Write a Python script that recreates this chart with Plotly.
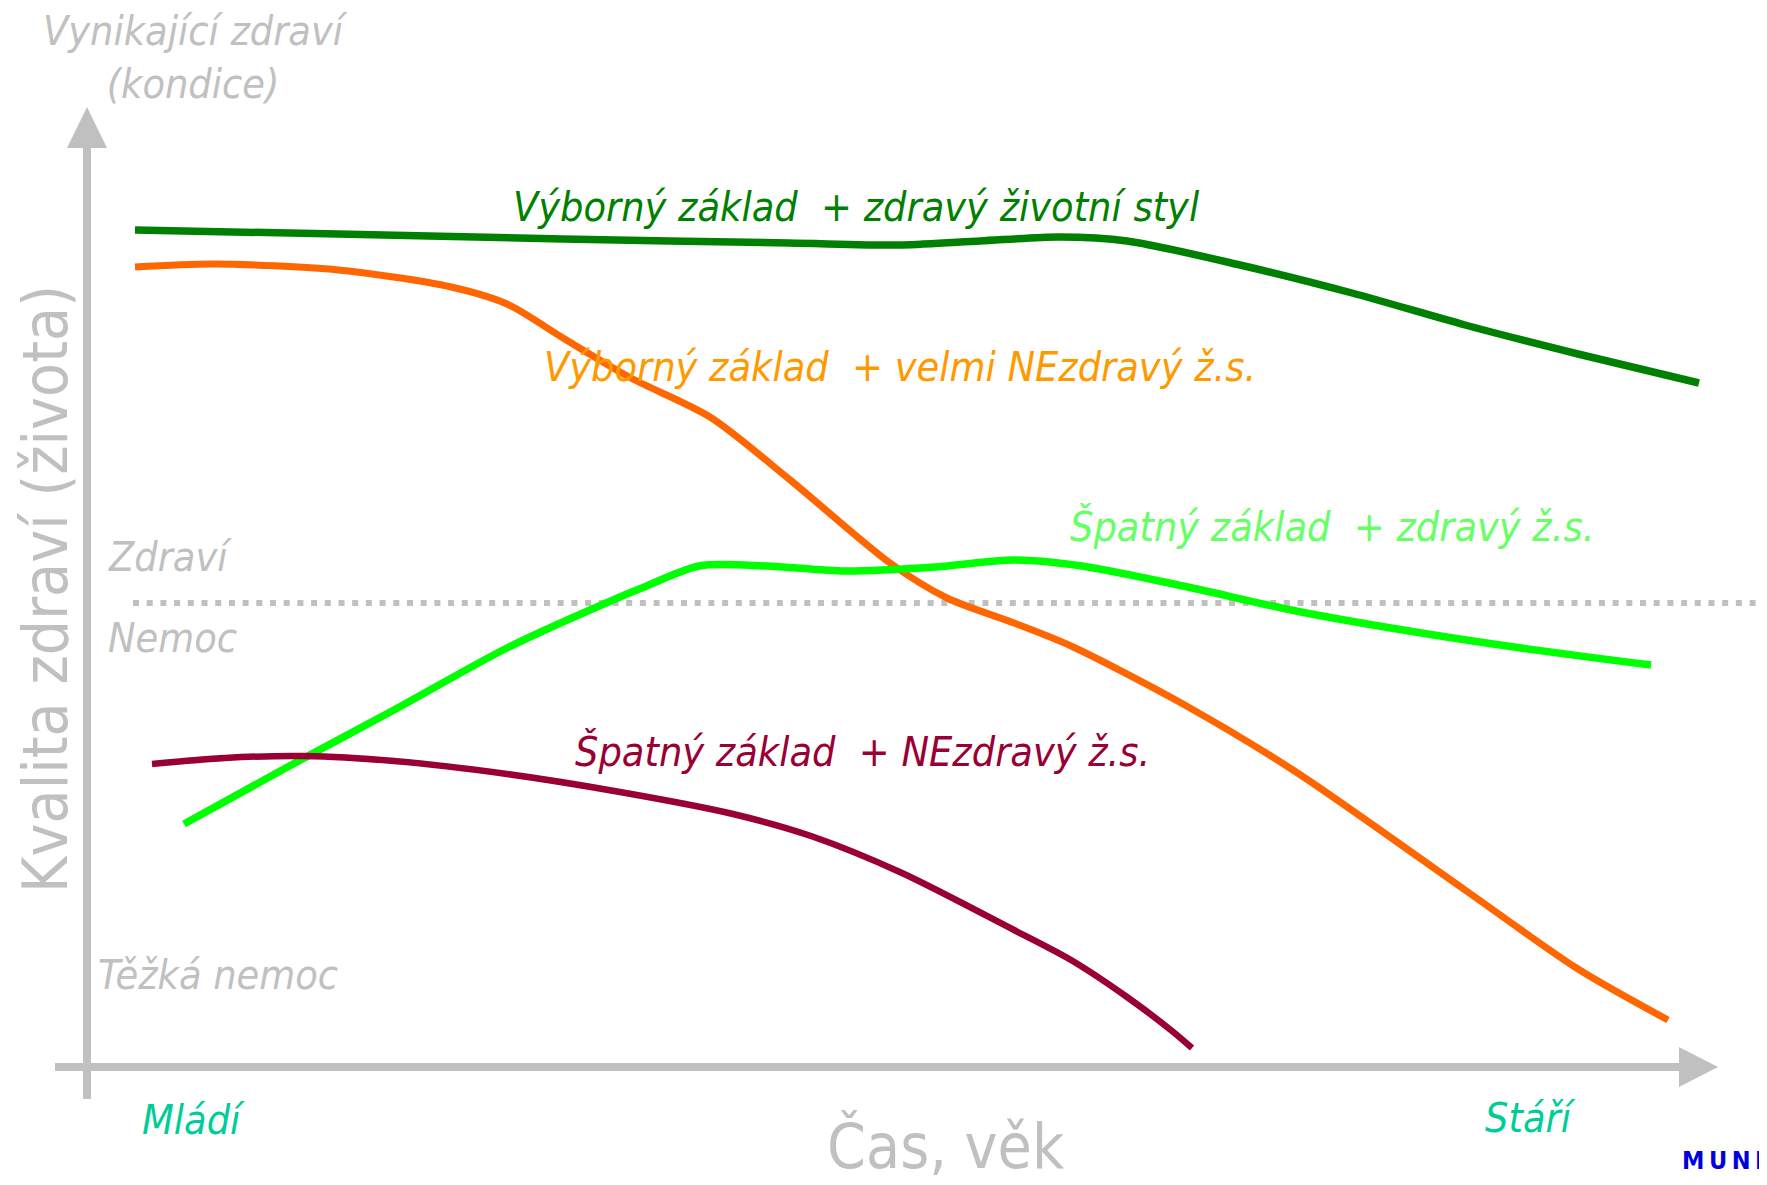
import plotly.graph_objs as go

# curve points (x: time, y: screen height, top = 0)
good_healthy_t = [135, 338, 563, 789, 902, 980, 1059, 1127, 1240, 1352, 1465, 1578, 1699]
good_healthy_q = [230, 234, 239, 243, 245, 241, 237, 241, 265, 293, 325, 354, 383]

good_unhealthy_t = [135, 214, 338, 451, 507, 563, 631, 710, 789, 890, 947, 1014, 1071,
                    1183, 1296, 1465, 1578, 1668]
good_unhealthy_q = [267, 264, 270, 287, 304, 338, 378, 417, 479, 563, 598, 623, 646,
                    704, 772, 890, 969, 1020]

poor_healthy_t = [184, 293, 394, 507, 620, 642, 699, 766, 845, 935, 1014, 1082, 1183,
                  1296, 1409, 1521, 1651]
poor_healthy_q = [824, 764, 710, 648, 597, 588, 566, 566, 571, 567, 560, 566, 586,
                  611, 631, 648, 665]

poor_unhealthy_t = [152, 225, 304, 394, 507, 620, 733, 811, 902, 1014, 1071, 1127, 1172, 1192]
poor_unhealthy_q = [764, 758, 756, 761, 774, 792, 814, 836, 873, 930, 960, 997, 1031, 1048]

health_line_t = [133, 1767]
health_line_q = [603, 603]

FONT = "DejaVu Sans Condensed, DejaVu Sans"
GREY = "#c0c0c0"
PAGE_MARGIN = 8  # default body margin of the html page

series = [
    (good_healthy_t, good_healthy_q, "#008000", 7.5),
    (good_unhealthy_t, good_unhealthy_q, "#ff6600", 7),
    (poor_healthy_t, poor_healthy_q, "#00ff00", 7.5),
    (poor_unhealthy_t, poor_unhealthy_q, "#990033", 6.5),
]

traces = [
    go.Scatter(
        x=health_line_t,
        y=health_line_q,
        mode="lines",
        line=dict(color=GREY, width=6, dash="6px,7.7px"),
        hoverinfo="skip",
    )
]
traces += [
    go.Scatter(
        x=t,
        y=q,
        mode="lines",
        line=dict(color=color, width=width, shape="spline", smoothing=0.8),
        hoverinfo="skip",
    )
    for t, q, color, width in series
]


def label(text, x, y, color, size=41, italic=True, xanchor="center", angle=0):
    return dict(
        text=text,
        x=x,
        y=y,
        xref="x",
        yref="y",
        showarrow=False,
        xanchor=xanchor,
        yanchor="middle",
        textangle=angle,
        font=dict(family=FONT, size=size, color=color,
                  style="italic" if italic else "normal"),
    )


annotations = [
    label("Výborný základ \u00a0+ zdravý životní styl", 856, 207, "#008000"),
    label("Výborný základ \u00a0+ velmi NEzdravý ž.s.", 900, 367, "#ff9900"),
    label("Špatný základ \u00a0+ zdravý ž.s.", 1332, 527, "#66ff66"),
    label("Špatný základ \u00a0+ NEzdravý ž.s.", 862, 752, "#990033"),
    label("Vynikající zdraví<br>(kondice)", 195, 57, GREY),
    label("Zdraví", 106, 557, GREY, xanchor="left"),
    label("Nemoc", 106, 638, GREY, xanchor="left"),
    label("Těžká nemoc", 96, 975, GREY, xanchor="left"),
    label("Mládí", 140, 1120, "#00cc99", xanchor="left"),
    label("Stáří", 1483, 1118, "#00cc99", xanchor="left"),
    label("Čas, věk", 946, 1146, GREY, size=62, italic=False),
    label("Kvalita zdraví (života)", 45, 589, GREY, size=62, italic=False, angle=-90),
    dict(text="<b>M\u2009U\u2009N\u2009I</b>", x=1765, y=1160, xref="x", yref="y",
         showarrow=False, xanchor="right", yanchor="middle",
         font=dict(family=FONT, size=25, color="#0000dd")),
]

shapes = [
    dict(type="line", x0=87, x1=87, y0=1099, y1=140, line=dict(color=GREY, width=8)),
    dict(type="path", path="M 87 107 L 67 148 L 107 148 Z", fillcolor=GREY,
         line=dict(width=0)),
    dict(type="line", x0=55, x1=1685, y0=1067, y1=1067, line=dict(color=GREY, width=8)),
    dict(type="path", path="M 1718 1067 L 1679 1047 L 1679 1087 Z", fillcolor=GREY,
         line=dict(width=0)),
]

layout = go.Layout(
    width=1767 - PAGE_MARGIN,
    height=1185 - PAGE_MARGIN,
    margin=dict(l=0, r=0, t=0, b=0),
    paper_bgcolor="white",
    plot_bgcolor="white",
    showlegend=False,
    xaxis=dict(range=[PAGE_MARGIN, 1767], visible=False, fixedrange=True),
    yaxis=dict(range=[1185, PAGE_MARGIN], visible=False, fixedrange=True),
    annotations=annotations,
    shapes=shapes,
)

fig = go.Figure(data=traces, layout=layout)
fig.write_html("out.html", config=dict(displayModeBar=False))
